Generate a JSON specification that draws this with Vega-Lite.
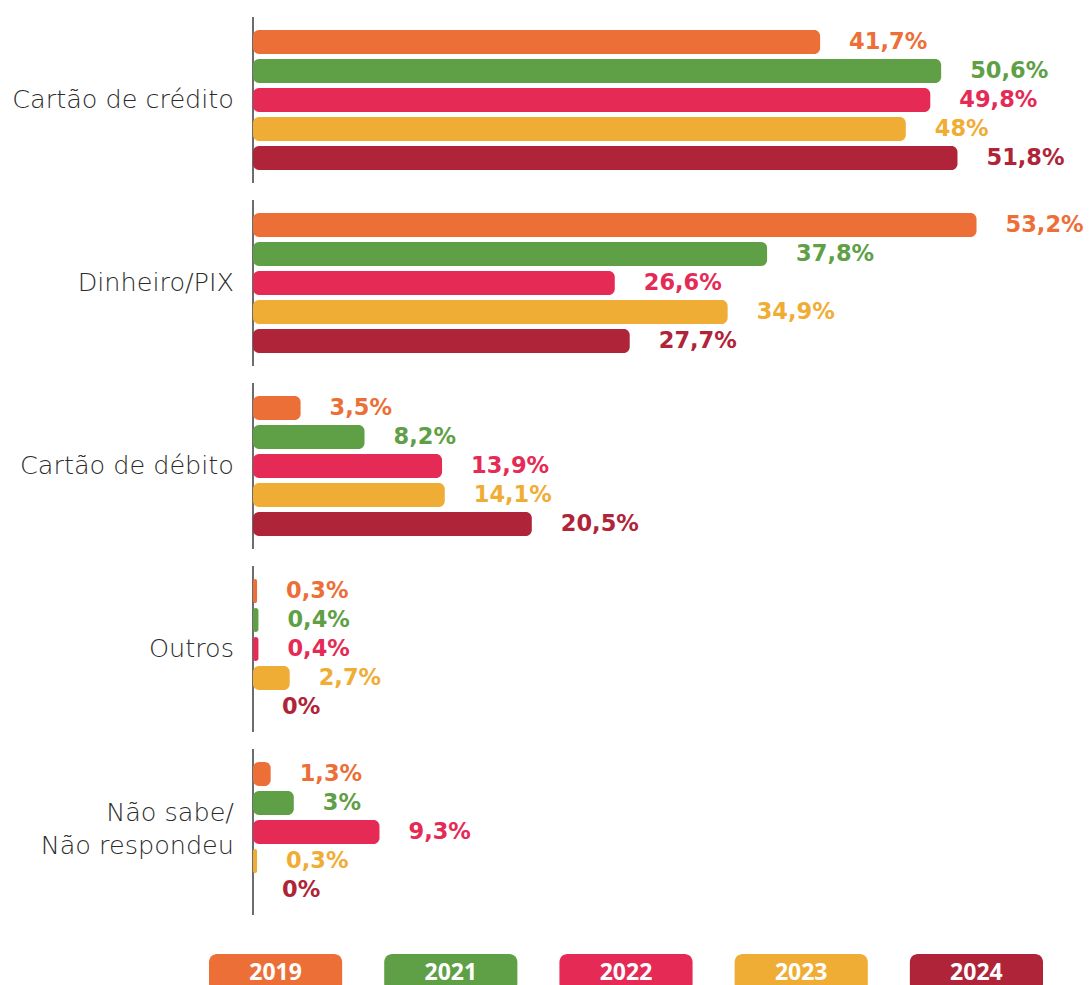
{
  "$schema": "https://vega.github.io/schema/vega-lite/v6.json",
  "autosize": {"type": "pad"},
  "padding": {"left": 12, "top": 16, "right": 0, "bottom": 0},
  "background": "white",
  "bounds": "flush",
  "spacing": 39,
  "config": {"view": {"stroke": null}},
  "datasets": {
    "bars": [
      {"cat": "Cartão de crédito", "year": "2019", "value": 41.7, "label": "41,7%"},
      {"cat": "Cartão de crédito", "year": "2021", "value": 50.6, "label": "50,6%"},
      {"cat": "Cartão de crédito", "year": "2022", "value": 49.8, "label": "49,8%"},
      {"cat": "Cartão de crédito", "year": "2023", "value": 48, "label": "48%"},
      {"cat": "Cartão de crédito", "year": "2024", "value": 51.8, "label": "51,8%"},
      {"cat": "Dinheiro/PIX", "year": "2019", "value": 53.2, "label": "53,2%"},
      {"cat": "Dinheiro/PIX", "year": "2021", "value": 37.8, "label": "37,8%"},
      {"cat": "Dinheiro/PIX", "year": "2022", "value": 26.6, "label": "26,6%"},
      {"cat": "Dinheiro/PIX", "year": "2023", "value": 34.9, "label": "34,9%"},
      {"cat": "Dinheiro/PIX", "year": "2024", "value": 27.7, "label": "27,7%"},
      {"cat": "Cartão de débito", "year": "2019", "value": 3.5, "label": "3,5%"},
      {"cat": "Cartão de débito", "year": "2021", "value": 8.2, "label": "8,2%"},
      {"cat": "Cartão de débito", "year": "2022", "value": 13.9, "label": "13,9%"},
      {"cat": "Cartão de débito", "year": "2023", "value": 14.1, "label": "14,1%"},
      {"cat": "Cartão de débito", "year": "2024", "value": 20.5, "label": "20,5%"},
      {"cat": "Outros", "year": "2019", "value": 0.3, "label": "0,3%"},
      {"cat": "Outros", "year": "2021", "value": 0.4, "label": "0,4%"},
      {"cat": "Outros", "year": "2022", "value": 0.4, "label": "0,4%"},
      {"cat": "Outros", "year": "2023", "value": 2.7, "label": "2,7%"},
      {"cat": "Outros", "year": "2024", "value": 0, "label": "0%"},
      {"cat": "Não sabe/\nNão respondeu", "year": "2019", "value": 1.3, "label": "1,3%"},
      {"cat": "Não sabe/\nNão respondeu", "year": "2021", "value": 3, "label": "3%"},
      {"cat": "Não sabe/\nNão respondeu", "year": "2022", "value": 9.3, "label": "9,3%"},
      {"cat": "Não sabe/\nNão respondeu", "year": "2023", "value": 0.3, "label": "0,3%"},
      {"cat": "Não sabe/\nNão respondeu", "year": "2024", "value": 0, "label": "0%"}
    ],
    "cats": [
      {"cat": "Cartão de crédito", "lines": 1},
      {"cat": "Dinheiro/PIX", "lines": 1},
      {"cat": "Cartão de débito", "lines": 1},
      {"cat": "Outros", "lines": 1},
      {"cat": "Não sabe/\nNão respondeu", "lines": 2}
    ],
    "years": [
      {"year": "2019"}, {"year": "2021"}, {"year": "2022"}, {"year": "2023"}, {"year": "2024"}
    ]
  },
  "resolve": {"scale": {"x": "independent", "color": "shared"}},
  "vconcat": [
    {
      "width": 834,
      "height": 898,
      "layer": [
        {
          "data": {"name": "cats"},
          "mark": {"type": "bar", "filled": false, "color": "#3d3d3d", "strokeWidth": 1.5},
          "encoding": {
            "x": {"datum": 0, "type": "quantitative", "scale": {"domain": [-3.235, 58.088], "zero": false, "nice": false}, "axis": null},
            "x2": {"datum": 0},
            "y": {"field": "cat", "type": "nominal", "scale": {"domain": ["Cartão de crédito", "Dinheiro/PIX", "Cartão de débito", "Outros", "Não sabe/\nNão respondeu"], "paddingInner": 0.0929, "paddingOuter": 0}, "axis": null}
          }
        },
        {
          "data": {"name": "bars"},
          "mark": {"type": "bar", "cornerRadiusEnd": 6},
          "encoding": {
            "x": {"field": "value", "type": "quantitative", "stack": null},
            "x2": {"datum": 0},
            "y": {"field": "cat", "type": "nominal"},
            "yOffset": {"field": "year", "type": "nominal", "scale": {"paddingInner": 0.172, "paddingOuter": 0.448}},
            "color": {"field": "year", "type": "nominal", "scale": {"domain": ["2019", "2021", "2022", "2023", "2024"], "range": ["#EC6F38", "#5FA046", "#E52A55", "#F0AD35", "#AF2438"]}, "legend": null}
          }
        },
        {
          "data": {"name": "bars"},
          "mark": {"type": "text", "align": "left", "baseline": "middle", "dx": 29, "font": "DejaVu Sans", "fontWeight": "bold", "fontSize": 22.5},
          "encoding": {
            "x": {"field": "value", "type": "quantitative"},
            "y": {"field": "cat", "type": "nominal"},
            "yOffset": {"field": "year", "type": "nominal"},
            "text": {"field": "label"},
            "color": {"field": "year", "type": "nominal", "legend": null}
          }
        },
        {
          "data": {"name": "cats"},
          "transform": [{"filter": "datum.lines == 1"}],
          "mark": {"type": "text", "align": "right", "baseline": "middle", "font": "DejaVu Sans", "fontWeight": 300, "fontSize": 25.5, "color": "#2b2b2b"},
          "encoding": {
            "x": {"datum": -1.4, "type": "quantitative"},
            "y": {"field": "cat", "type": "nominal"},
            "text": {"field": "cat"}
          }
        },
        {
          "data": {"name": "cats"},
          "transform": [{"filter": "datum.lines == 2"}],
          "mark": {"type": "text", "align": "right", "baseline": "middle", "dy": -19, "lineBreak": "\n", "lineHeight": 33, "font": "DejaVu Sans", "fontWeight": 300, "fontSize": 25.5, "color": "#2b2b2b"},
          "encoding": {
            "x": {"datum": -1.4, "type": "quantitative"},
            "y": {"field": "cat", "type": "nominal"},
            "text": {"field": "cat"}
          }
        }
      ]
    },
    {
      "width": 834,
      "height": 38,
      "data": {"name": "years"},
      "layer": [
        {
          "mark": {"type": "rect", "cornerRadius": 8},
          "encoding": {
            "x": {"field": "year", "type": "nominal", "scale": {"paddingInner": 0.24, "paddingOuter": 0}, "axis": null},
            "color": {"field": "year", "type": "nominal", "legend": null}
          }
        },
        {
          "mark": {"type": "text", "align": "center", "baseline": "middle", "font": "Open Sans", "fontWeight": "bold", "fontSize": 23, "color": "white"},
          "encoding": {
            "x": {"field": "year", "type": "nominal"},
            "text": {"field": "year"}
          }
        }
      ]
    }
  ]
}
